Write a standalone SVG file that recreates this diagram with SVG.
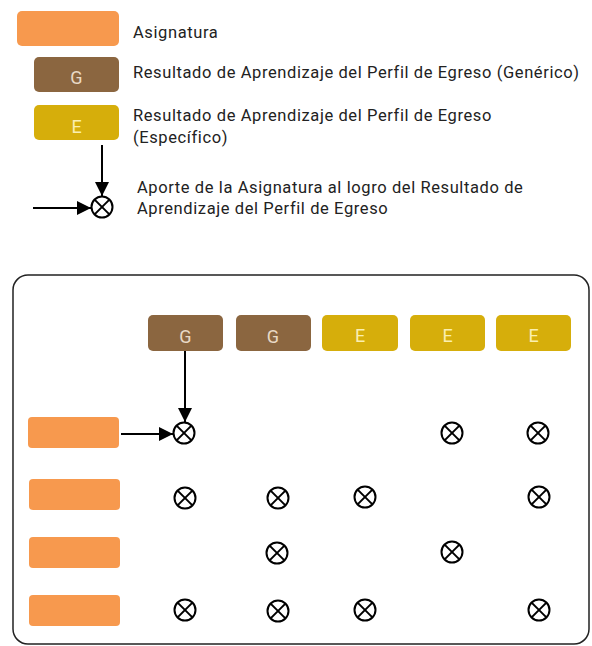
<svg xmlns="http://www.w3.org/2000/svg" width="592" height="646" viewBox="0 0 592 646">
<style>
.asig{fill:#F7994E;}
.gen{fill:#8B6640;}
.esp{fill:#D6AE0B;}
.bt{font-family:Roboto,"Liberation Sans",sans-serif;font-size:18px;text-anchor:middle;}
.gt{fill:#E9D9C6;}
.et{fill:#FBEFB0;}
.lbl{font-family:Roboto,"Liberation Sans",sans-serif;font-size:16.5px;fill:#222;letter-spacing:0.6px;}
.ln{stroke:#000;stroke-width:2;fill:none;}
</style>
<defs>
<marker id="ah" viewBox="0 0 14 14" refX="14" refY="7" markerWidth="14" markerHeight="14" markerUnits="userSpaceOnUse" orient="auto">
<path d="M0,0 L14,7 L0,14 Z" fill="#000"/>
</marker>
<g id="x" fill="#fff" stroke="#000" stroke-width="2">
<circle cx="0" cy="0" r="10.5"/>
<line x1="-7.4" y1="-7.4" x2="7.4" y2="7.4"/>
<line x1="-7.4" y1="7.4" x2="7.4" y2="-7.4"/>
</g>
</defs>

<g id="legend">
<g id="leg-asig">
<rect class="asig" x="17" y="11" width="102" height="35" rx="5"/>
<text class="lbl" x="133" y="38">Asignatura</text>
</g>
<g id="leg-gen">
<rect class="gen" x="34" y="57" width="85" height="35" rx="5"/>
<text class="bt gt" x="76.5" y="84">G</text>
<text class="lbl" x="133" y="78">Resultado de Aprendizaje del Perfil de Egreso (Genérico)</text>
</g>
<g id="leg-esp">
<rect class="esp" x="34" y="105" width="85" height="35" rx="5"/>
<text class="bt et" x="76.5" y="133">E</text>
<text class="lbl" x="133" y="121">Resultado de Aprendizaje del Perfil de Egreso</text>
<text class="lbl" x="133" y="143">(Específico)</text>
</g>
<g id="leg-aporte">
<use href="#x" x="102" y="207"/>
<text class="lbl" x="137" y="193">Aporte de la Asignatura al logro del Resultado de</text>
<text class="lbl" x="137" y="214">Aprendizaje del Perfil de Egreso</text>
</g>
</g>

<g id="panel">
<rect x="13" y="275" width="576" height="369" rx="15" fill="#fff" stroke="#222" stroke-width="1.5"/>
</g>

<g id="header">
<g id="h-g1"><rect class="gen" x="148" y="315" width="75" height="36" rx="5"/><text class="bt gt" x="185.5" y="343">G</text></g>
<g id="h-g2"><rect class="gen" x="236" y="315" width="75" height="36" rx="5"/><text class="bt gt" x="273" y="343">G</text></g>
<g id="h-e1"><rect class="esp" x="322" y="315" width="76" height="36" rx="5"/><text class="bt et" x="360" y="342">E</text></g>
<g id="h-e2"><rect class="esp" x="410" y="315" width="75" height="36" rx="5"/><text class="bt et" x="447.5" y="342">E</text></g>
<g id="h-e3"><rect class="esp" x="496" y="315" width="75" height="36" rx="5"/><text class="bt et" x="533.5" y="342">E</text></g>
</g>

<g id="rows">
<g id="r1"><rect class="asig" x="28" y="417" width="91" height="31" rx="4"/></g>
<g id="r2"><rect class="asig" x="29" y="479" width="91" height="31" rx="4"/></g>
<g id="r3"><rect class="asig" x="29" y="537" width="91" height="31" rx="4"/></g>
<g id="r4"><rect class="asig" x="29" y="595" width="91" height="31" rx="4"/></g>
</g>

<g id="marks">
<use href="#x" x="184" y="433"/>
<use href="#x" x="452" y="433"/>
<use href="#x" x="538" y="433"/>
<use href="#x" x="185" y="498"/>
<use href="#x" x="278" y="498"/>
<use href="#x" x="365" y="497"/>
<use href="#x" x="539" y="497"/>
<use href="#x" x="277" y="553"/>
<use href="#x" x="452" y="552"/>
<use href="#x" x="185" y="610"/>
<use href="#x" x="278" y="611"/>
<use href="#x" x="365" y="610"/>
<use href="#x" x="539" y="610"/>
</g>

<g id="connectors">
<line class="ln" x1="102" y1="145" x2="102" y2="196" marker-end="url(#ah)"/>
<line class="ln" x1="33" y1="208" x2="91" y2="208" marker-end="url(#ah)"/>
<line class="ln" x1="185" y1="351" x2="185" y2="422" marker-end="url(#ah)"/>
<line class="ln" x1="121" y1="434" x2="173" y2="434" marker-end="url(#ah)"/>
</g>
</svg>
